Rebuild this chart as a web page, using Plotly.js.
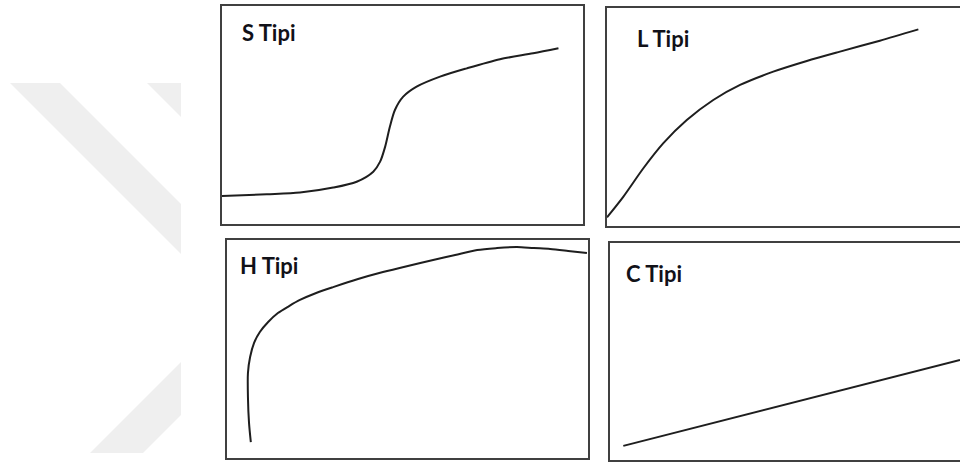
<!DOCTYPE html>
<html>
<head>
<meta charset="utf-8">
<script src="https://cdn.plot.ly/plotly-3.0.1.min.js"></script>
<style>
  html, body { margin: 0; padding: 0; background: #ffffff; overflow: hidden; }
  #chart { width: 960px; height: 463px; }
</style>
</head>
<body>
<div id="chart"></div>
<script>
// Isotherm shapes, each drawn on a 0-100 x 0-100 frame of its own panel.
const panelTitles = ["S Tipi", "L Tipi", "H Tipi", "C Tipi"];

const sTypeX = [0, 12.4, 21.6, 30.8, 37.3, 41.9, 43.8, 45.2, 46.5, 47.9, 50.2, 53.9, 60.4, 67.8, 77.0, 86.2, 93.2];
const sTypeY = [12.8, 13.6, 14.4, 16.7, 19.4, 24.0, 28.6, 35.5, 44.6, 52.3, 58.4, 63.0, 67.6, 71.4, 75.6, 78.3, 80.6];

const lTypeX = [0, 4.6, 10.3, 15.9, 22.6, 30.1, 37.7, 47.1, 56.6, 66.0, 77.3, 88.2];
const lTypeY = [4.0, 13.4, 26.5, 37.9, 48.6, 57.8, 64.7, 70.8, 75.7, 80.0, 85.0, 90.2];

const hTypeX = [6.6, 6.1, 5.8, 5.8, 6.4, 7.5, 9.1, 11.4, 14.1, 17.2, 20.2, 24.7, 29.4, 36.3, 43.2, 50.1, 57.1, 63.2, 69.3, 74.8, 80.3, 85.0, 89.5, 94.5, 99.7];
const hTypeY = [7.3, 16.1, 28.0, 39.0, 46.3, 52.8, 57.8, 62.4, 66.5, 69.7, 72.5, 75.7, 78.4, 82.1, 85.3, 88.1, 90.8, 93.1, 95.4, 96.3, 96.8, 96.3, 95.9, 95.0, 94.0];

const cTypeX = [3.8, 100];
const cTypeY = [6.5, 46.1];

const W = 960, H = 463;
const px = v => v / W;          // pixel column -> paper fraction
const py = v => (H - v) / H;    // pixel row -> paper fraction

// Panel frames in pixels: [left, right, top, bottom]; the right-hand panels run off the page edge.
const frames = [
  [222, 583, 6, 224],
  [607, 960, 8, 226],
  [227, 588, 240, 458],
  [610, 960, 243, 460]
];
const closedRight = [true, false, true, false];
const labelPos = [[240, 32.5], [635, 38], [238, 265.5], [624, 274]];

const series = [[sTypeX, sTypeY], [lTypeX, lTypeY], [hTypeX, hTypeY], [cTypeX, cTypeY]];

const frameColor = "#404040";
const curveColor = "#1e1e1e";

const traces = series.map((s, i) => ({
  type: "scatter",
  mode: "lines",
  x: s[0],
  y: s[1],
  xaxis: i === 0 ? "x" : "x" + (i + 1),
  yaxis: i === 0 ? "y" : "y" + (i + 1),
  line: { color: curveColor, width: 2, shape: "spline", smoothing: 0.8 },
  hoverinfo: "skip",
  showlegend: false,
  cliponaxis: true
}));

const layout = {
  width: W,
  height: H,
  margin: { l: 0, r: 0, t: 0, b: 0 },
  paper_bgcolor: "#ffffff",
  plot_bgcolor: "rgba(0,0,0,0)",
  showlegend: false,
  annotations: [],
  shapes: []
};

frames.forEach((f, i) => {
  const k = i === 0 ? "" : String(i + 1);
  layout["xaxis" + k] = {
    domain: [px(f[0]), px(f[1])],
    range: [0, 100],
    anchor: "y" + k,
    showline: true, mirror: true,
    linecolor: frameColor, linewidth: 2,
    showgrid: false, zeroline: false, showticklabels: false, ticks: "",
    fixedrange: true
  };
  layout["yaxis" + k] = {
    domain: [py(f[3]), py(f[2])],
    range: [0, 100],
    anchor: "x" + k,
    showline: true, mirror: closedRight[i],
    linecolor: frameColor, linewidth: 2,
    showgrid: false, zeroline: false, showticklabels: false, ticks: "",
    fixedrange: true
  };
  layout.annotations.push({
    text: "<b>" + panelTitles[i] + "</b>",
    xref: "paper", yref: "paper",
    x: px(labelPos[i][0]), y: py(labelPos[i][1]),
    xanchor: "left", yanchor: "middle",
    showarrow: false,
    font: { family: "Lato, sans-serif", size: 22, color: "#111118" }
  });
});

// Light grey background emblem on the left margin.
const emblem = [
  [[10, 83], [60, 83], [181, 204], [181, 254]],
  [[147, 83], [181, 83], [181, 117]],
  [[90, 453], [143, 453], [181, 415], [181, 362]]
];
emblem.forEach(poly => {
  const d = poly.map((p, j) => (j === 0 ? "M" : "L") + px(p[0]).toFixed(5) + "," + py(p[1]).toFixed(5)).join(" ") + " Z";
  layout.shapes.push({
    type: "path", xref: "paper", yref: "paper", path: d,
    fillcolor: "#efefef", line: { width: 0 }, layer: "below"
  });
});

Plotly.newPlot("chart", traces, layout, { displayModeBar: false, staticPlot: true });
</script>
</body>
</html>
